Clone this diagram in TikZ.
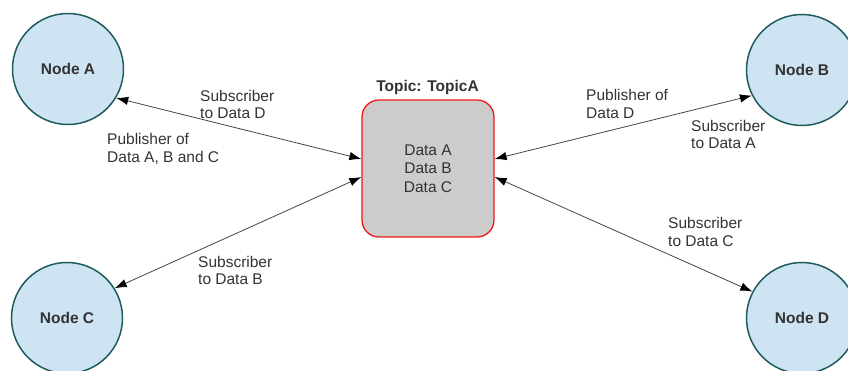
\documentclass[tikz,border=0pt]{standalone}
\usepackage{fontspec}
\setmainfont{Liberation Sans}
\usetikzlibrary{arrows.meta}
\definecolor{ink}{HTML}{333333}
\definecolor{wire}{HTML}{444444}
\definecolor{nodefill}{HTML}{CFE4F2}
\definecolor{nodeline}{HTML}{1E5C5C}
\definecolor{topicfill}{HTML}{CCCCCC}
\definecolor{topicline}{HTML}{F01818}
\tikzset{
  peer/.style={circle, draw=nodeline, fill=nodefill, line width=1.5pt,
    minimum size=111pt, inner sep=0pt, text=ink,
    font=\fontsize{15.5}{17.5}\selectfont\bfseries},
  topic/.style={rectangle, rounded corners=17pt, draw=topicline, fill=topicfill,
    line width=1.3pt, minimum width=132pt, minimum height=137pt, inner sep=0pt,
    text=ink, align=center, font=\fontsize{15.5}{18.5}\selectfont},
  note/.style={anchor=north west, inner sep=0pt, align=left, text=ink,
    font=\fontsize{15.5}{17.5}\selectfont},
  link/.style={draw=wire, line width=0.8pt, <->,
    >={Latex[length=12pt,width=8.5pt,color=black]}}
}
\begin{document}
\begin{tikzpicture}[x=1pt, y=-1pt]
  \useasboundingbox (0,0) rectangle (848,371);

  % participants
  \node[peer] (A) at (68,69) {Node A};
  \node[peer] (B) at (802,70) {Node B};
  \node[peer] (C) at (67,318) {Node C};
  \node[peer] (D) at (802,318) {Node D};

  % shared topic
  \node[topic] (T) at (428,168.5) {Data A\\Data B\\Data C};
  \node[anchor=north, inner sep=0pt, text=ink,
    font=\fontsize{15.5}{17.5}\selectfont\bfseries] (Ttitle) at (427.5,80.5) {Topic: TopicA};

  % connections
  \draw[link] (A.-31) -- ([yshift=9.5pt]T.west);
  \draw[link] (C.32) -- ([yshift=-8.5pt]T.west);
  \draw[link] (B.207) -- ([yshift=9.5pt]T.east);
  \draw[link] (D.152) -- ([yshift=-8.5pt]T.east);

  % roles
  \node[note] (lA1) at (200,90) {Subscriber\\to Data D};
  \node[note] (lA2) at (107,133.5) {Publisher of\\Data A, B and C};
  \node[note] (lB1) at (586,89.5) {Publisher of\\Data D};
  \node[note] (lB2) at (691,120) {Subscriber\\to Data A};
  \node[note] (lC) at (198,256) {Subscriber\\to Data B};
  \node[note] (lD) at (668,217.5) {Subscriber\\to Data C};
\end{tikzpicture}
\end{document}
